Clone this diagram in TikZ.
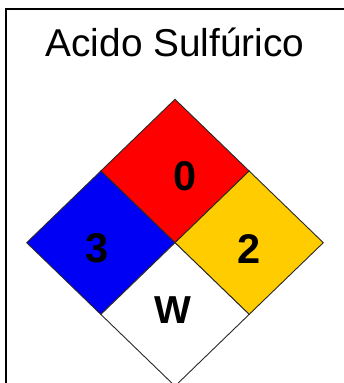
\documentclass[tikz,border=0pt]{standalone}
\usepackage{fontspec}
\setmainfont{Liberation Sans}
\definecolor{nfpared}{RGB}{255,0,0}
\definecolor{nfpablue}{RGB}{0,0,245}
\definecolor{nfpayellow}{RGB}{255,204,0}
\definecolor{edgegray}{RGB}{40,40,40}
\begin{document}
\begin{tikzpicture}[x=1pt,y=-1pt,
  quad/.style={draw=edgegray,line width=0.9pt,line join=miter},
  num/.style={inner sep=0pt,font=\fontsize{41.5}{42}\selectfont\bfseries},
  titletext/.style={inner sep=0pt,anchor=base,font=\fontsize{38.8}{40}\selectfont}]
\useasboundingbox (0,0) rectangle (344,383);
\clip (0,0) rectangle (344,383);
\fill[white] (0,0) rectangle (344,383);
\draw[line width=2.2pt] (6.2,9.3) rectangle (420,460);
% diamond vertices
\coordinate (T) at (175,99.3);
\coordinate (L) at (26.7,242.7);
\coordinate (R) at (323.3,242.7);
\coordinate (B) at (175,386.1);
\coordinate (C) at (175,242.7);
\coordinate (UL) at (100.85,171);
\coordinate (UR) at (249.15,171);
\coordinate (LL) at (100.85,314.4);
\coordinate (LR) at (249.15,314.4);
% quadrants
\filldraw[quad,fill=nfpared] (T) -- (UR) -- (C) -- (UL) -- cycle;
\filldraw[quad,fill=nfpablue] (UL) -- (C) -- (LL) -- (L) -- cycle;
\filldraw[quad,fill=nfpayellow] (UR) -- (R) -- (LR) -- (C) -- cycle;
\filldraw[quad,fill=white] (C) -- (LR) -- (B) -- (LL) -- cycle;
% texts
\node[titletext] (title) at (175,56) {Acido Sulfúrico};
\node[num] (flam) at (185,176.7) {0};
\node[num] (health) at (96.7,248.7) {3};
\node[num] (react) at (249.5,248.7) {2};
\node[num,font=\fontsize{39}{39}\selectfont\bfseries] (special) at (172.5,310.3) {W};
\end{tikzpicture}
\end{document}
